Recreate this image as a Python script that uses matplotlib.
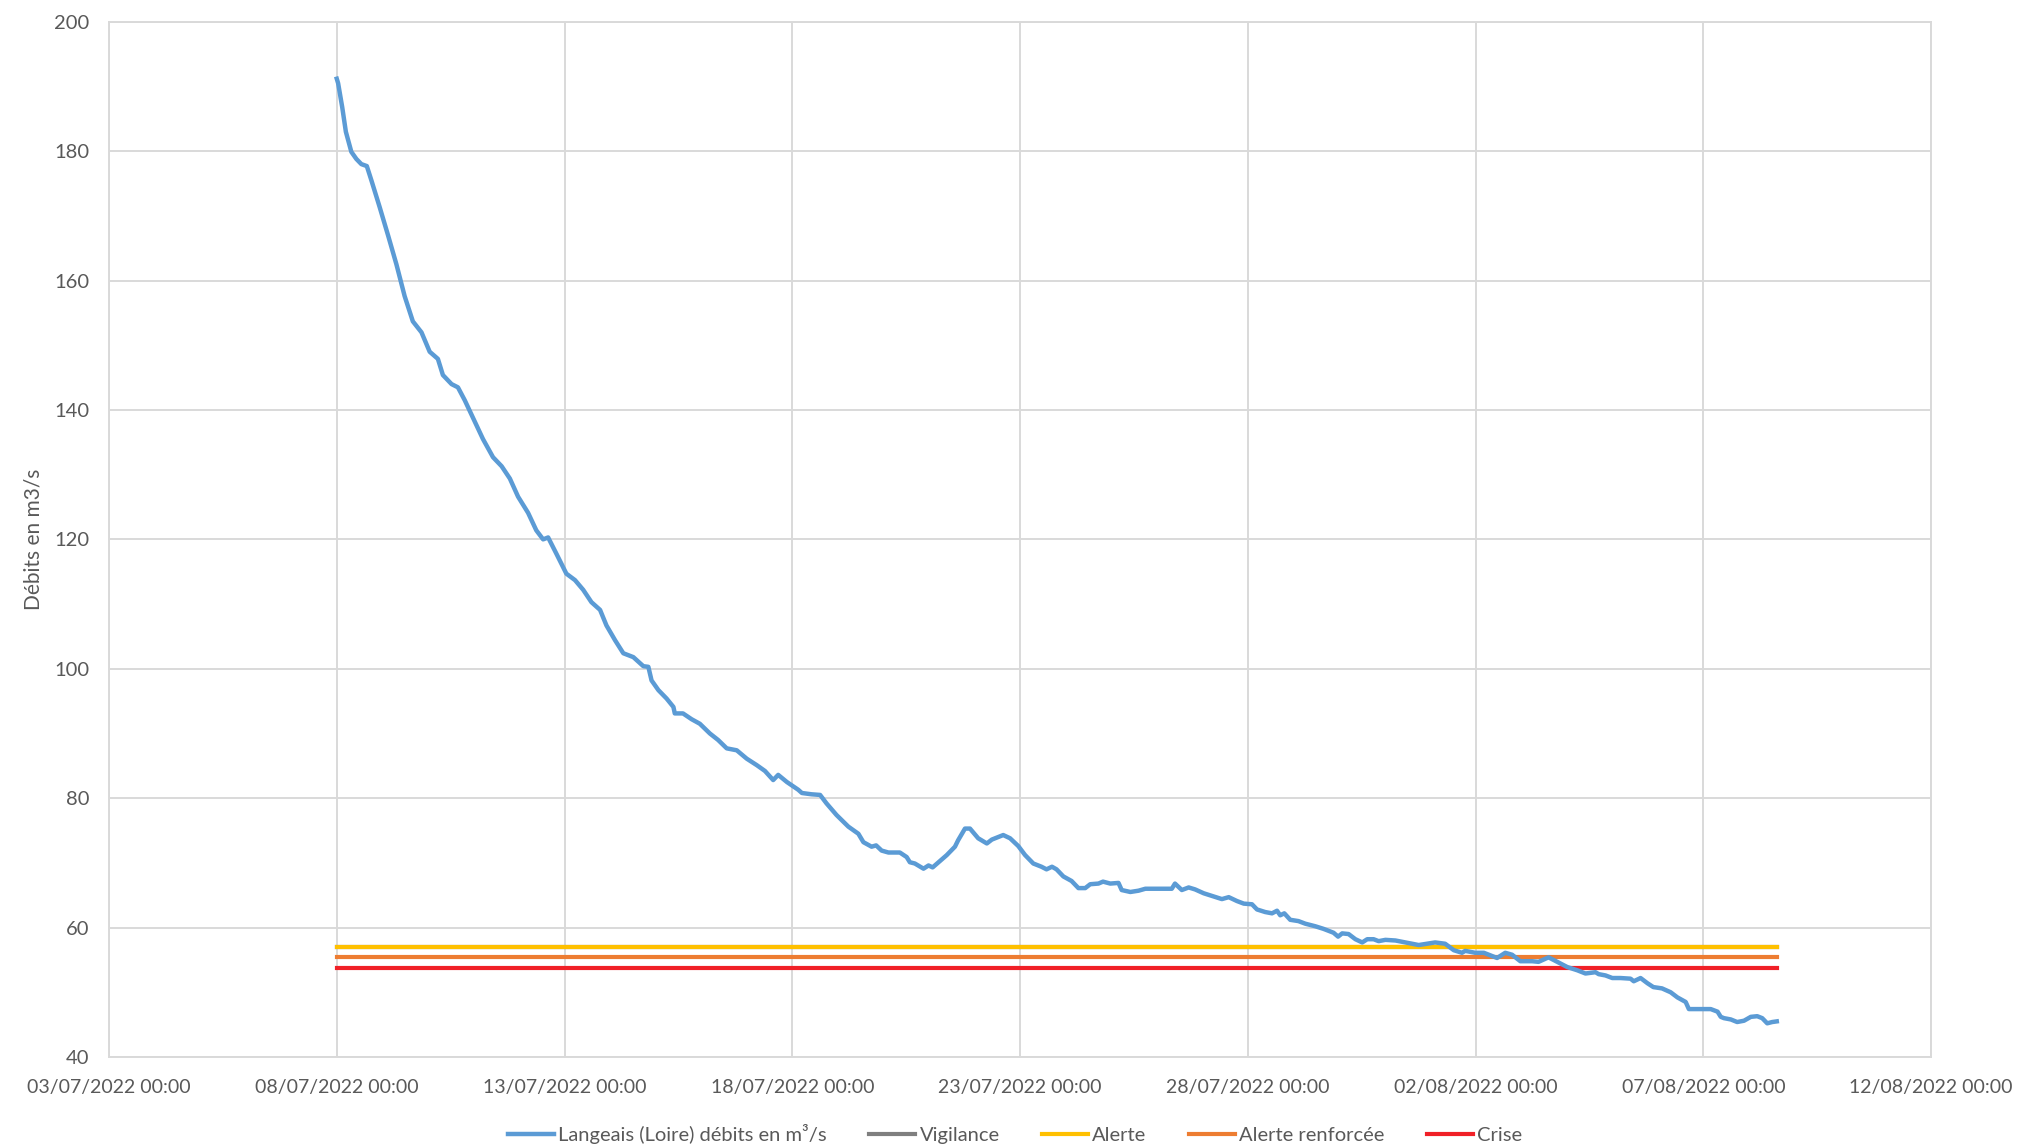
import pandas as pd
import matplotlib
matplotlib.use("Agg")
import matplotlib.pyplot as plt

plt.rcParams['font.family'] = ['Lato', 'DejaVu Sans']

# jours depuis le 03/07/2022 00:00
jours = [5.00, 5.03, 5.12, 5.20, 5.32, 5.43, 5.54, 5.66, 5.76, 5.94, 6.13, 6.31, 6.49, 6.67,
         6.86, 7.04, 7.22, 7.33, 7.52, 7.66, 7.81, 7.99, 8.21, 8.43, 8.62, 8.80, 8.98, 9.20,
         9.38, 9.53, 9.64, 9.82, 10.04, 10.23, 10.41, 10.59, 10.78, 10.92, 11.11, 11.29,
         11.51, 11.73, 11.84, 11.91, 12.06, 12.24, 12.39, 12.42, 12.60, 12.79, 12.97, 13.19,
         13.37, 13.56, 13.78, 14.00, 14.22, 14.40, 14.58, 14.69, 14.88, 15.13, 15.21, 15.42,
         15.61, 15.75, 15.97, 16.23, 16.45, 16.56, 16.74, 16.84, 16.96, 17.11, 17.36, 17.51,
         17.58, 17.69, 17.88, 17.99, 18.08, 18.21, 18.39, 18.57, 18.64, 18.79, 18.90, 19.08,
         19.27, 19.38, 19.52, 19.63, 19.78, 19.96, 20.11, 20.29, 20.47, 20.58, 20.70, 20.80,
         20.95, 21.13, 21.28, 21.43, 21.54, 21.72, 21.82, 21.98, 22.16, 22.23, 22.42, 22.60,
         22.75, 23.33, 23.40, 23.55, 23.70, 23.84, 24.03, 24.21, 24.43, 24.58, 24.76, 24.91,
         25.09, 25.20, 25.38, 25.53, 25.64, 25.71, 25.80, 25.93, 26.11, 26.26, 26.48, 26.66,
         26.77, 26.88, 26.98, 27.07, 27.21, 27.36, 27.51, 27.62, 27.76, 27.87, 28.02, 28.24,
         28.46, 28.60, 28.75, 28.93, 29.11, 29.33, 29.52, 29.70, 29.77, 29.99, 30.18, 30.47,
         30.65, 30.80, 30.98, 31.24, 31.38, 31.60, 31.79, 32.01, 32.23, 32.41, 32.63, 32.70,
         32.85, 33.00, 33.18, 33.40, 33.47, 33.62, 33.77, 33.90, 34.09, 34.28, 34.43, 34.61,
         34.68, 34.94, 35.16, 35.31, 35.38, 35.45, 35.60, 35.74, 35.89, 36.04, 36.18, 36.29,
         36.40, 36.51, 36.61]

debits = [191.2, 190.5, 186.8, 183.0, 179.9, 178.8, 178.0, 177.7, 175.5, 171.4, 166.9, 162.5,
          157.6, 153.7, 152.0, 149.0, 147.9, 145.4, 144.0, 143.5, 141.5, 138.8, 135.5, 132.7,
          131.3, 129.4, 126.6, 124.1, 121.4, 120.0, 120.3, 117.8, 114.7, 113.7, 112.2, 110.3,
          109.1, 106.7, 104.4, 102.4, 101.8, 100.4, 100.3, 98.2, 96.7, 95.4, 94.1, 93.1, 93.1,
          92.2, 91.5, 90.0, 89.0, 87.7, 87.4, 86.1, 85.1, 84.2, 82.8, 83.6, 82.5, 81.3, 80.8,
          80.6, 80.5, 79.2, 77.4, 75.6, 74.5, 73.2, 72.5, 72.7, 71.9, 71.6, 71.6, 70.9, 70.1,
          69.9, 69.1, 69.6, 69.3, 70.1, 71.2, 72.5, 73.5, 75.3, 75.3, 73.8, 73.0, 73.6, 74.0,
          74.3, 73.8, 72.6, 71.2, 69.9, 69.4, 69.0, 69.4, 69.0, 67.9, 67.2, 66.1, 66.1, 66.7,
          66.8, 67.1, 66.8, 66.9, 65.8, 65.5, 65.7, 66.0, 66.0, 66.8, 65.8, 66.2, 65.9, 65.3,
          64.9, 64.4, 64.7, 64.1, 63.7, 63.6, 62.8, 62.4, 62.2, 62.6, 61.9, 62.2, 61.2, 61.0,
          60.6, 60.2, 59.8, 59.5, 59.2, 58.6, 59.1, 59.0, 58.2, 57.7, 58.2, 58.2, 57.9, 58.1,
          58.0, 57.7, 57.5, 57.3, 57.5, 57.7, 57.5, 56.5, 56.1, 56.4, 56.1, 56.1, 55.3, 56.1,
          55.8, 54.8, 54.8, 54.7, 55.4, 54.7, 53.9, 53.4, 52.9, 53.1, 52.8, 52.6, 52.2, 52.2,
          52.1, 51.7, 52.2, 51.4, 50.8, 50.6, 50.0, 49.2, 48.5, 47.4, 47.4, 47.4, 47.0, 46.2,
          46.0, 45.8, 45.4, 45.6, 46.2, 46.3, 46.0, 45.2, 45.4, 45.5]

seuils = {
    "Vigilance": 57.0,
    "Alerte": 57.0,
    "Alerte renforcée": 55.4,
    "Crise": 53.8,
}
couleurs = {
    "Vigilance": "#7F7F7F",
    "Alerte": "#FFC000",
    "Alerte renforcée": "#ED7D31",
    "Crise": "#F02027",
}

origine = pd.Timestamp("2022-07-03 00:00")
dates = origine + pd.to_timedelta(jours, unit="D")

fig = plt.figure(figsize=(20.18, 11.47), dpi=100)
ax = fig.add_axes([0.054, 0.0785, 0.903, 0.9025])

ax.plot(dates, debits, color="#5B9BD5", lw=3.2, label="Langeais (Loire) débits en m³/s", zorder=5)
for nom, val in seuils.items():
    ax.plot([dates[0], dates[-1]], [val, val], color=couleurs[nom], lw=3.0, label=nom,
            zorder=3 if nom == "Vigilance" else 4)

ax.set_xlim(origine, pd.Timestamp("2022-08-12 00:00"))
ax.set_ylim(40, 200)
ax.set_yticks(range(40, 201, 20))
ticks = pd.date_range("2022-07-03", "2022-08-12", freq="5D")
ax.set_xticks(ticks)
ax.set_xticklabels([t.strftime("%d/%m/%Y %H:%M") for t in ticks])

ax.grid(True, color="#D9D9D9", lw=1.4)
ax.set_axisbelow(True)
for s in ax.spines.values():
    s.set_color("#D9D9D9")
    s.set_linewidth(1.4)
ax.tick_params(axis="x", length=0, labelsize=14, colors="#595959", pad=16)
ax.tick_params(axis="y", length=0, labelsize=14.5, colors="#595959", pad=14)
ax.set_ylabel("Débits en m3/s", fontsize=15, color="#595959", labelpad=8)

fig.legend(loc="center", bbox_to_anchor=(0.503, 0.0115), ncol=5, frameon=False,
           fontsize=14.5, handlelength=2.3, handletextpad=0.2, columnspacing=2.1,
           labelcolor="#595959")

fig.savefig("out.png", dpi=100)
